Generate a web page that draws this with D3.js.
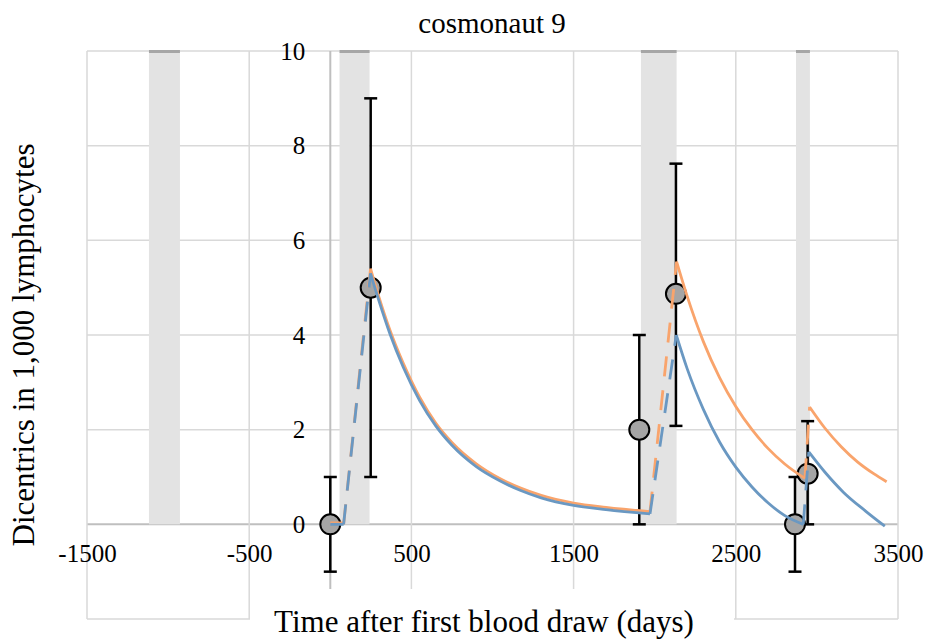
<!DOCTYPE html>
<html>
<head>
<meta charset="utf-8">
<script src="https://cdn.jsdelivr.net/npm/d3@7"></script>
<style>
  body { margin: 0; background: #fff; }
  svg text { font-family: "Liberation Serif", "Times New Roman", serif; fill: #000; }
</style>
</head>
<body>
<div id="chart"></div>
<script>
// mission periods (grey bands), days
var bandStart = [-1118, 57, 1915, 2871];
var bandEnd = [-927, 242, 2135, 2957];

// measured dicentrics (blood draws)
var drawDays = [0, 249, 1905, 2131, 2865, 2943];
var drawValues = [0, 5.0, 2.0, 4.87, 0, 1.07];
var errLow = [-1.0, 1.0, 0, 2.08, -1.0, 0];
var errHigh = [1.0, 9.0, 4.0, 7.62, 1.0, 2.18];

// model curves: [day, value]
var orangeSolid = [
    [[0, 0.03], [82, 0.03]],
    [[248, 5.4], [300, 4.8], [368, 4.1], [450, 3.4], [550, 2.69], [650, 2.14], [750, 1.73], [900, 1.28],
     [1045, 0.97], [1170, 0.77], [1300, 0.61], [1500, 0.45], [1700, 0.36], [1971, 0.27]],
    [[2135, 5.55], [2200, 4.82], [2300, 3.86], [2400, 3.1], [2500, 2.49], [2600, 2.0], [2700, 1.6],
     [2800, 1.28], [2926, 0.97]],
    [[2955, 2.48], [3050, 2.03], [3150, 1.64], [3250, 1.32], [3350, 1.07], [3430, 0.9]]
];
var orangeDashed = [
    [[82, 0], [248, 5.4]],
    [[1971, 0.27], [2135, 5.55]],
    [[2926, 0.97], [2955, 2.48]]
];
var blueSolid = [
    [[0, 0], [82, 0]],
    [[248, 5.3], [300, 4.72], [368, 4.02], [450, 3.32], [550, 2.62], [650, 2.08], [750, 1.67], [900, 1.22],
     [1045, 0.92], [1170, 0.72], [1300, 0.56], [1500, 0.4], [1700, 0.31], [1971, 0.22]],
    [[2133, 4.0], [2200, 3.29], [2300, 2.43], [2400, 1.74], [2500, 1.21], [2600, 0.79], [2700, 0.45],
     [2800, 0.19], [2916, 0.0]],
    [[2950, 1.53], [3050, 1.1], [3163, 0.68], [3300, 0.28], [3419, -0.04]]
];
var blueDashed = [
    [[82, 0], [248, 5.3]],
    [[1971, 0.22], [2133, 4.0]],
    [[2916, 0.0], [2950, 1.53]]
];

var xTicks = [-1500, -500, 500, 1500, 2500, 3500];
var yGrid = [-2, 0, 2, 4, 6, 8, 10];
var yTicks = [0, 2, 4, 6, 8, 10];

var orange = "#f9a46c";
var blue = "#6a98c2";

var width = 927, height = 642;
var margin = {top: 51, right: 29, bottom: 23, left: 87};

var svg = d3.select("#chart").append("svg")
    .attr("width", width)
    .attr("height", height);

var x = d3.scaleLinear().domain([-1500, 3500]).range([margin.left, width - margin.right]);
var y = d3.scaleLinear().domain([-2, 10]).range([height - margin.bottom, margin.top]);

//gridlines
svg.append("g").selectAll("line").data(yGrid).enter().append("line")
    .attr("x1", x(-1500)).attr("x2", x(3500))
    .attr("y1", function(d){ return y(d); }).attr("y2", function(d){ return y(d); })
    .attr("stroke", function(d){ return d == 0 ? "#bfbfbf" : "#d9d9d9"; })
    .attr("stroke-width", function(d){ return d == 0 ? 2 : 1.5; });

svg.append("g").selectAll("line").data(xTicks.concat([0])).enter().append("line")
    .attr("x1", function(d){ return x(d); }).attr("x2", function(d){ return x(d); })
    .attr("y1", y(10)).attr("y2", y(-2))
    .attr("stroke", function(d){ return d == 0 ? "#bfbfbf" : "#d9d9d9"; })
    .attr("stroke-width", function(d){ return d == 0 ? 2 : 1.5; });

//mission bands
var bands = svg.append("g");
bands.selectAll("rect.band").data(bandStart).enter().append("rect")
    .attr("class", "band")
    .attr("x", function(d){ return x(d); })
    .attr("width", function(d, i){ return x(bandEnd[i]) - x(d); })
    .attr("y", y(10))
    .attr("height", y(0) - y(10))
    .attr("fill", "#e3e3e3");
bands.selectAll("rect.cap").data(bandStart).enter().append("rect")
    .attr("class", "cap")
    .attr("x", function(d){ return x(d); })
    .attr("width", function(d, i){ return x(bandEnd[i]) - x(d); })
    .attr("y", y(10) - 1)
    .attr("height", 3)
    .attr("fill", "#a6a6a6");

//white box behind x title
svg.append("rect")
    .attr("x", 250).attr("y", 589)
    .attr("width", 484).attr("height", 53)
    .attr("fill", "#fff");

//axes labels
var xAxis = d3.axisBottom(x).tickValues(xTicks).tickSize(0).tickPadding(20)
    .tickFormat(function(d){ return d; });
var gx = svg.append("g")
    .attr("transform", "translate(0," + y(0) + ")")
    .call(xAxis);
gx.select(".domain").remove();
gx.selectAll("text").style("font-size", "25px").style("font-family", "Liberation Serif");

var yAxis = d3.axisLeft(y).tickValues(yTicks).tickSize(0).tickPadding(25);
var gy = svg.append("g")
    .attr("transform", "translate(" + x(0) + ",0)")
    .call(yAxis);
gy.select(".domain").remove();
gy.selectAll("text").style("font-size", "25px").style("font-family", "Liberation Serif");

//error bars
var bars = svg.append("g");
bars.selectAll("line.err").data(drawDays).enter().append("line")
    .attr("x1", function(d){ return x(d); }).attr("x2", function(d){ return x(d); })
    .attr("y1", function(d, i){ return y(errLow[i]); })
    .attr("y2", function(d, i){ return y(errHigh[i]); })
    .attr("stroke", "#000").attr("stroke-width", 2.5);
[errLow, errHigh].forEach(function(arr){
    bars.append("g").selectAll("line").data(drawDays).enter().append("line")
        .attr("x1", function(d){ return x(d) - 6.5; }).attr("x2", function(d){ return x(d) + 6.5; })
        .attr("y1", function(d, i){ return y(arr[i]); })
        .attr("y2", function(d, i){ return y(arr[i]); })
        .attr("stroke", "#000").attr("stroke-width", 2.5);
});

svg.append("g").selectAll("circle").data(drawDays).enter().append("circle")
    .attr("cx", function(d){ return x(d); })
    .attr("cy", function(d, i){ return y(drawValues[i]); })
    .attr("r", 10)
    .attr("fill", "#a5a5a5")
    .attr("stroke", "#000")
    .attr("stroke-width", 2);

//model curves
var line = d3.line()
    .x(function(d){ return x(d[0]); })
    .y(function(d){ return y(d[1]); })
    .curve(d3.curveMonotoneX);

function drawSeries(segs, color, dashed){
    svg.append("g").selectAll("path").data(segs).enter().append("path")
        .attr("d", line)
        .attr("fill", "none")
        .attr("stroke", color)
        .attr("stroke-width", 2.8)
        .attr("stroke-dasharray", dashed ? "20,14" : null);
}
drawSeries(orangeSolid, orange, false);
drawSeries(orangeDashed, orange, true);
drawSeries(blueSolid, blue, false);
drawSeries(blueDashed, blue, true);

//titles
svg.append("text")
    .attr("x", 492).attr("y", 33)
    .attr("text-anchor", "middle")
    .style("font-size", "29px")
    .text("cosmonaut 9");

svg.append("text")
    .attr("x", 484).attr("y", 632)
    .attr("text-anchor", "middle")
    .style("font-size", "31px")
    .text("Time after first blood draw (days)");

svg.append("text")
    .attr("transform", "translate(34,345) rotate(-90)")
    .attr("text-anchor", "middle")
    .style("font-size", "31px")
    .text("Dicentrics in 1,000 lymphocytes");
</script>
</body>
</html>
